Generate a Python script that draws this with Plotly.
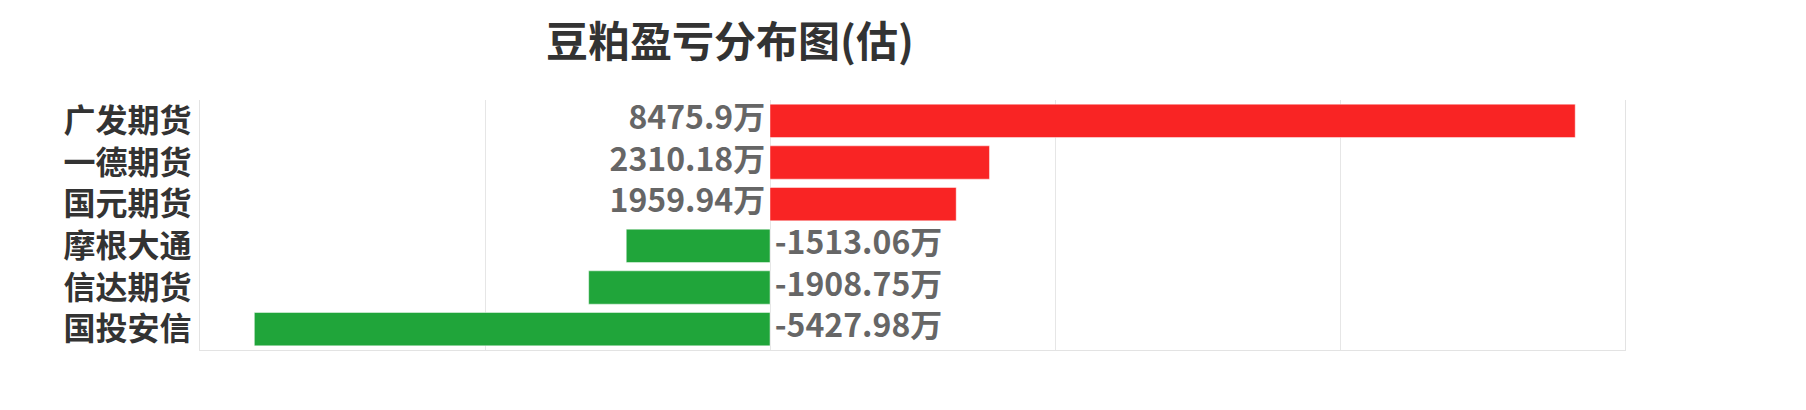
import plotly.graph_objects as go

title_text = "豆粕盈亏分布图(估)"
companies = ["广发期货", "一德期货", "国元期货", "摩根大通", "信达期货", "国投安信"]
values = [8475.9, 2310.18, 1959.94, -1513.06, -1908.75, -5427.98]
value_labels = [f"{v:g}万" for v in values]

RED = "#f92424"
GREEN = "#20a53a"
FONT = "Noto Sans CJK SC"

colors = [RED if v >= 0 else GREEN for v in values]
zeros = [0 for _ in values]
label_pos = ["middle left" if v >= 0 else "middle right" for v in values]

fig = go.Figure()
fig.add_trace(go.Bar(
    x=values, y=companies, orientation="h",
    marker=dict(color=colors, line=dict(color="rgba(255,255,255,0.45)", width=1)),
    hoverinfo="skip", showlegend=False,
))
fig.add_trace(go.Scatter(
    x=zeros, y=companies, mode="markers+text",
    text=value_labels, textposition=label_pos,
    marker=dict(size=6, color="rgba(0,0,0,0)"),
    textfont=dict(family=FONT, size=32, color="#666666", weight="bold"),
    hoverinfo="skip", showlegend=False, cliponaxis=False,
))

fig.update_layout(
    width=1806, height=410,
    margin=dict(l=192, r=189, t=92, b=68),
    paper_bgcolor="white", plot_bgcolor="white",
    bargap=0.2,
    font=dict(family=FONT),
    title=dict(text=title_text, x=722 / 1806, xanchor="center", xref="container",
               y=1 - 34 / 410, yanchor="middle", yref="container",
               font=dict(family=FONT, size=42, color="#333333", weight="bold")),
    xaxis=dict(range=[-6000, 9000], dtick=3000, tick0=0, showticklabels=False,
               showgrid=True, gridcolor="#e6e6e6", gridwidth=1,
               zeroline=True, zerolinecolor="#e6e6e6", zerolinewidth=1,
               showline=True, linecolor="#e3e3e3", linewidth=1, fixedrange=True),
    yaxis=dict(autorange="reversed", showgrid=False, zeroline=False,
               showline=True, mirror=True, linecolor="#e3e3e3", linewidth=1,
               ticks="", ticklabelstandoff=1,
               tickfont=dict(family=FONT, size=32, color="#333333", weight="bold")),
)

fig.write_html("out.html")
